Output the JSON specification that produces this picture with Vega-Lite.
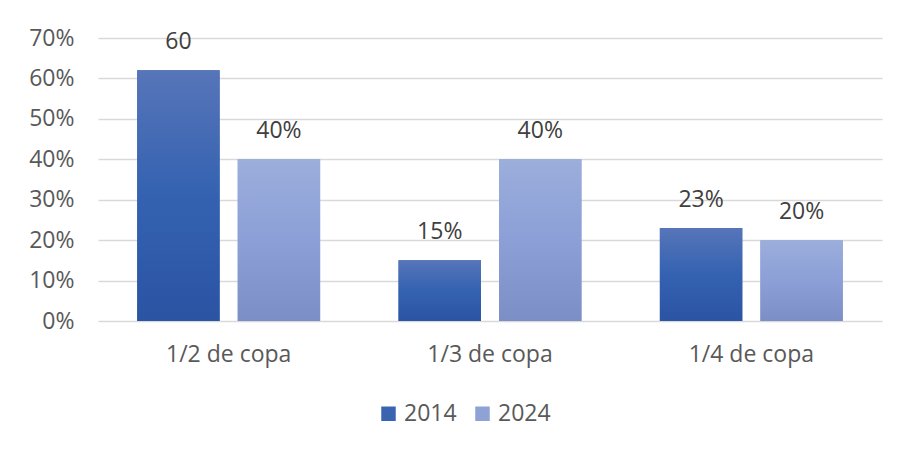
{
  "$schema": "https://vega.github.io/schema/vega-lite/v6.json",
  "width": 784,
  "height": 283,
  "autosize": "none",
  "padding": {"left": 98, "top": 38, "right": 21, "bottom": 135},
  "background": "white",
  "config": {
    "view": {"stroke": null},
    "font": "Open Sans"
  },
  "data": {
    "values": [
      {"cat": "1/2 de copa", "year": "2014", "value": 0.62, "label": "60"},
      {"cat": "1/2 de copa", "year": "2024", "value": 0.40, "label": "40%"},
      {"cat": "1/3 de copa", "year": "2014", "value": 0.15, "label": "15%"},
      {"cat": "1/3 de copa", "year": "2024", "value": 0.40, "label": "40%"},
      {"cat": "1/4 de copa", "year": "2014", "value": 0.23, "label": "23%"},
      {"cat": "1/4 de copa", "year": "2024", "value": 0.20, "label": "20%"}
    ]
  },
  "encoding": {
    "x": {
      "field": "cat", "type": "nominal", "sort": null,
      "scale": {"paddingInner": 0.3, "paddingOuter": 0.15},
      "axis": {"title": null, "labelAngle": 0, "labelFontSize": 23, "labelColor": "#595959", "labelPadding": 22, "ticks": false, "domain": false, "labelFont": "Open Sans"}
    },
    "xOffset": {"field": "year", "type": "nominal", "scale": {"paddingInner": 0.18, "paddingOuter": 0}},
    "y": {
      "field": "value", "type": "quantitative",
      "scale": {"domain": [0, 0.7], "nice": false},
      "axis": {"title": null, "format": ".0%", "values": [0, 0.1, 0.2, 0.3, 0.4, 0.5, 0.6, 0.7], "labelFontSize": 23, "labelColor": "#595959", "labelPadding": 24, "ticks": false, "domain": false, "gridColor": "#d9d9d9", "gridWidth": 1.5, "labelFont": "Open Sans"}
    }
  },
  "layer": [
    {
      "mark": {"type": "bar"},
      "encoding": {
        "color": {
          "field": "year", "type": "nominal",
          "scale": {"domain": ["2014", "2024"], "range": ["#3a63b0", "#8fa2d6"]},
          "legend": {
            "title": null, "orient": "none", "direction": "horizontal",
            "legendX": 279, "legendY": 364,
            "symbolType": "square", "symbolSize": 210, "symbolStrokeWidth": 0,
            "labelFontSize": 23, "labelColor": "#595959", "labelOffset": 4, "columnPadding": 14,
            "labelFont": "Open Sans"
          }
        }
      }
    },
    {
      "mark": {"type": "bar"},
      "encoding": {
        "fill": {
          "condition": {
            "test": "datum.year === '2014'",
            "value": {"gradient": "linear", "x1": 0, "y1": 0, "x2": 0, "y2": 1, "stops": [
              {"offset": 0, "color": "#5775b9"},
              {"offset": 0.5, "color": "#3462b1"},
              {"offset": 1, "color": "#2b54a3"}
            ]}
          },
          "value": {"gradient": "linear", "x1": 0, "y1": 0, "x2": 0, "y2": 1, "stops": [
            {"offset": 0, "color": "#9caedb"},
            {"offset": 0.5, "color": "#8c9fd7"},
            {"offset": 1, "color": "#7b8ec6"}
          ]}
        }
      }
    },
    {
      "mark": {"type": "text", "baseline": "alphabetic", "dy": -21, "fontSize": 23, "color": "#404040", "font": "Open Sans"},
      "encoding": {"text": {"field": "label"}}
    }
  ]
}
